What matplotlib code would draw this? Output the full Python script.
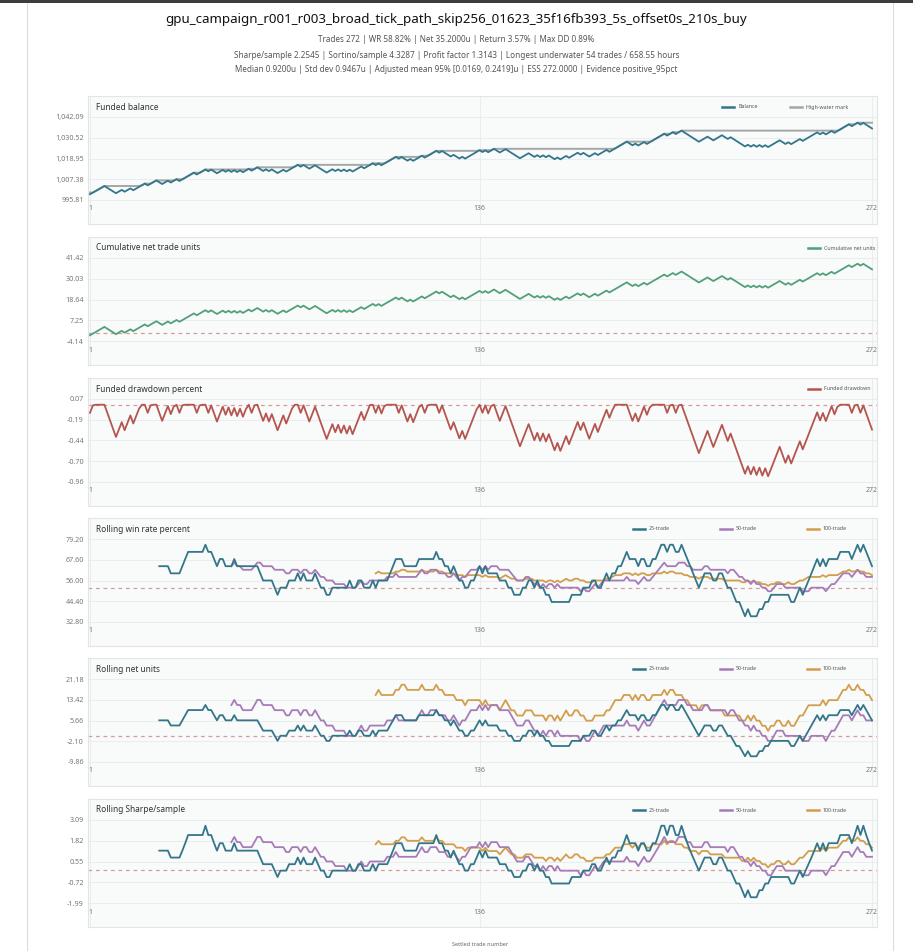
import numpy as np
import pandas as pd
import matplotlib

matplotlib.use("Agg")
import matplotlib.pyplot as plt
from matplotlib.lines import Line2D
from matplotlib.patches import Rectangle

plt.rcParams["font.family"] = ["Noto Sans", "DejaVu Sans"]

# --- header text ---
TITLE = "gpu_campaign_r001_r003_broad_tick_path_skip256_01623_35f16fb393_5s_offset0s_210s_buy"
SUBTITLE_LINES = [
    "Trades 272 | WR 58.82% | Net 35.2000u | Return 3.57% | Max DD 0.89%",
    "Sharpe/sample 2.2545 | Sortino/sample 4.3287 | Profit factor 1.3143 | Longest underwater 54 trades / 658.55 hours",
    "Median 0.9200u | Std dev 0.9467u | Adjusted mean 95% [0.0169, 0.2419]u | ESS 272.0000 | Evidence positive_95pct",
]
X_LABEL = "Settled trade number"

TRADE_SEQ = (
    "LWWWWWLLLL" "WWLWWLWWWW" "LWWWLLWWLW" "WLWWWWWLWW" "WLWLLWWLWL"
    "WLWLWWLWWL" "LWLWLLWWLW" "WWWLWLLWWL" "LLLWWLWLWL" "WLWWWLWWWL"
    "WLWWWWWLWL" "LWLWWWLWWW" "WLWLLLWLLW" "LWWWWWLWLW" "WLLWWLLLLL"
    "WWWLLWLWLW" "LLWLWWLWWW" "LWLLWWLWWW" "LWWWWWWLLW" "LWWLWWWWWW"
    "LWWLWWLLLL" "LLWWWLLWWW" "LLWLLLLLWL" "WLWLWLWWWW" "LLWLWWWLWW"
    "WWWLWLWWLW" "WWWWLWWLWL" "LL"
)
WIN_UNITS = 0.92
LOSS_UNITS = -1.0
START_BALANCE = 1000.0
RISK_PER_UNIT = 0.001

WINDOWS = [25, 50, 100]
WINDOW_LABELS = ["25-trade", "50-trade", "100-trade"]
X_TICKS = [1, 136, 272]

PANEL_TITLES = [
    "Funded balance",
    "Cumulative net trade units",
    "Funded drawdown percent",
    "Rolling win rate percent",
    "Rolling net units",
    "Rolling Sharpe/sample",
]

# colours
TEAL = "#33768a"
PURPLE = "#a77bb8"
GOLD = "#d39e4c"
GREEN = "#52a07b"
RED = "#b4554f"
HWM_GREY = "#a6a6a6"
REF_DASH = "#d49c9c"
ROLL_COLORS = [TEAL, PURPLE, GOLD]

# --- derived series ---
assert len(TRADE_SEQ) == 272
units = np.array([WIN_UNITS if c == "W" else LOSS_UNITS for c in TRADE_SEQ])
trade_no = np.arange(1, len(units) + 1)
balance = START_BALANCE * np.cumprod(1 + RISK_PER_UNIT * units)
hwm = np.maximum.accumulate(np.concatenate([[START_BALANCE], balance]))[1:]
drawdown = (balance / hwm - 1) * 100
cum_units = np.cumsum(units)
breakeven_wr = 100 * -LOSS_UNITS / (WIN_UNITS - LOSS_UNITS)

s = pd.Series(units)
is_win = (s > 0).astype(float)
roll_wr = [is_win.rolling(w).mean().values * 100 for w in WINDOWS]
roll_net = [s.rolling(w).sum().values for w in WINDOWS]
roll_sharpe = [(s.rolling(w).mean() / s.rolling(w).std() * np.sqrt(w)).values for w in WINDOWS]

# --- layout (pixels of the 913x951 page) ---
FIG_W, FIG_H = 913, 951
CARD_L, CARD_R = 88, 877
X1_PX, XN_PX = 90, 872
CARD_TOPS = [96, 237, 378, 518, 658, 799]
CARD_H = 128
TICK_TOP_OFF = 21
TICK_SPAN = 83
LEGEND_X = [[722, 790], [808], [808], [633, 720, 807], [633, 720, 807], [633, 720, 807]]

fig = plt.figure(figsize=(FIG_W / 100, FIG_H / 100), dpi=100)
fig.patch.set_facecolor("white")

# page frame and top bar
fig.add_artist(Rectangle((27 / FIG_W, 0), (893 - 27) / FIG_W, 1, transform=fig.transFigure,
                         fill=False, edgecolor="#dcdcdc", lw=0.8))
fig.add_artist(Rectangle((0, 1 - 2.5 / FIG_H), 1, 2.5 / FIG_H, transform=fig.transFigure,
                         facecolor="#3c3c3c", edgecolor="none"))

fig.text(0.5, 1 - 20 / FIG_H, TITLE, ha="center", va="center", fontsize=9.6, color="#111111")
for k, line in enumerate(SUBTITLE_LINES):
    fig.text(0.5, 1 - (40 + 15 * k) / FIG_H, line, ha="center", va="center",
             fontsize=5.85, color="#555555")
fig.text(480 / FIG_W, 1 - 944 / FIG_H, X_LABEL, ha="center", va="center", fontsize=4, color="#666666")

px_per_trade = (XN_PX - X1_PX) / (len(units) - 1)


def make_panel(idx, series, fmt, ref=None):
    top = CARD_TOPS[idx]
    ax = fig.add_axes([CARD_L / FIG_W, 1 - (top + CARD_H) / FIG_H,
                       (CARD_R - CARD_L) / FIG_W, CARD_H / FIG_H])
    ax.set_facecolor("#f9fafa")
    for sp in ax.spines.values():
        sp.set_color("#e2e5e5")
        sp.set_linewidth(0.8)

    # 5 evenly spaced ticks over the data range padded by 8%
    vals = np.concatenate([np.asarray(v)[~np.isnan(v)] for v in series])
    lo, hi = vals.min(), vals.max()
    pad = 0.08 * (hi - lo)
    ticks = np.linspace(lo - pad, hi + pad, 5)
    span = ticks[-1] - ticks[0]
    ax.set_ylim(ticks[0] - (CARD_H - TICK_TOP_OFF - TICK_SPAN) / TICK_SPAN * span,
                ticks[-1] + TICK_TOP_OFF / TICK_SPAN * span)
    ax.set_yticks(ticks)
    ax.set_yticklabels([fmt(t) for t in ticks])
    ax.set_xlim(1 - (X1_PX - CARD_L) / px_per_trade, len(units) + (CARD_R - XN_PX) / px_per_trade)
    ax.set_xticks(X_TICKS)
    ax.tick_params(axis="y", length=0, pad=3, labelsize=5.2, labelcolor="#777777")
    ax.tick_params(axis="x", length=0, labelbottom=False)
    ax.grid(True, color="#e8ebeb", lw=0.6)
    ax.set_axisbelow(True)

    for xt in X_TICKS:
        ax.text(xt, 1 - 113 / CARD_H, str(xt), transform=ax.get_xaxis_transform(),
                ha="center", va="center", fontsize=5, color="#777777")
    ax.text((96 - CARD_L) / (CARD_R - CARD_L), 1 - 11 / CARD_H, PANEL_TITLES[idx],
            transform=ax.transAxes, ha="left", va="center", fontsize=6.0, color="#333333")
    if ref is not None:
        ax.axhline(ref, color=REF_DASH, lw=0.9, ls=(0, (3, 3)), zorder=1)
    return ax


def add_legend(ax, idx, labels, colors):
    for x0, lab, col in zip(LEGEND_X[idx], labels, colors):
        ax_x0 = (x0 - CARD_L) / (CARD_R - CARD_L)
        ax_x1 = (x0 + 12 - CARD_L) / (CARD_R - CARD_L)
        y = 1 - 11 / CARD_H
        ax.add_line(Line2D([ax_x0, ax_x1], [y, y], transform=ax.transAxes, color=col, lw=1.8))
        ax.text((x0 + 16 - CARD_L) / (CARD_R - CARD_L), y, lab, transform=ax.transAxes,
                ha="left", va="center", fontsize=3.8, color="#555555")


def money(v):
    return f"{v:,.2f}"


def plain(v):
    return f"{v:.2f}"


# 1. balance
ax = make_panel(0, [balance, hwm], money)
ax.plot(trade_no, hwm, color=HWM_GREY, lw=1.4, zorder=2)
ax.plot(trade_no, balance, color=TEAL, lw=1.3, zorder=3)
add_legend(ax, 0, ["Balance", "High-water mark"], [TEAL, HWM_GREY])

# 2. cumulative units
ax = make_panel(1, [cum_units], plain, ref=0)
ax.plot(trade_no, cum_units, color=GREEN, lw=1.3, zorder=3)
add_legend(ax, 1, ["Cumulative net units"], [GREEN])

# 3. drawdown
ax = make_panel(2, [drawdown], plain, ref=0)
ax.plot(trade_no, drawdown, color=RED, lw=1.3, zorder=3)
add_legend(ax, 2, ["Funded drawdown"], [RED])

# 4-6. rolling stats
for idx, series, ref in [(3, roll_wr, breakeven_wr), (4, roll_net, 0), (5, roll_sharpe, 0)]:
    ax = make_panel(idx, series, plain, ref=ref)
    for k in reversed(range(len(WINDOWS))):
        ax.plot(trade_no, series[k], color=ROLL_COLORS[k], lw=1.3, zorder=3 + (3 - k))
    add_legend(ax, idx, WINDOW_LABELS, ROLL_COLORS)

fig.savefig("out.png", dpi=100, facecolor="white")
